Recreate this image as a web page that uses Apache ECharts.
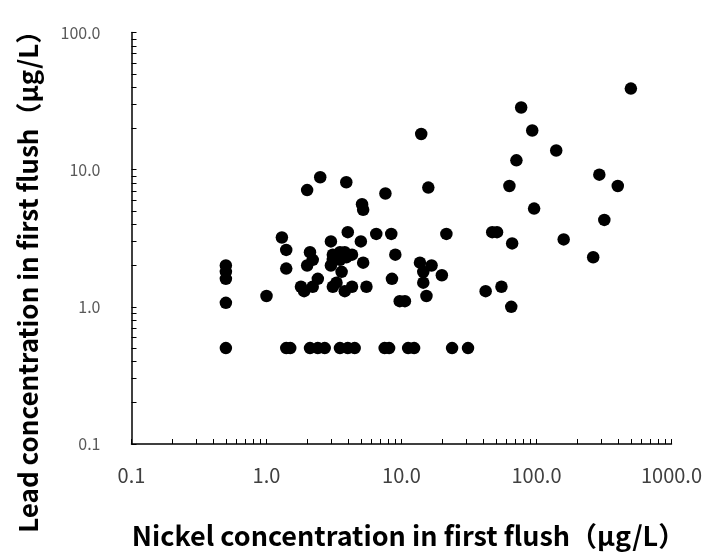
<!DOCTYPE html>
<html>
<head>
<meta charset="utf-8">
<script src="https://cdn.jsdelivr.net/npm/echarts@6/dist/echarts.min.js"></script>
<style>
    html, body { margin: 0; padding: 0; background: #fff; }
    #J-scatter { width: 706px; height: 554px; }
</style>
</head>
<body>
<div id="J-scatter"></div>
<script>
// nickel / lead in first flush, ug/L
const nickel = [
    0.5, 0.5, 0.5, 0.5, 0.5,
    1.0,
    1.3, 1.4, 1.4, 1.4, 1.5,
    1.8, 1.9, 2.2, 2.0, 2.5, 2.1, 2.2, 2.0, 2.4,
    2.1, 2.4, 2.7, 3.5, 4.0, 4.5, 7.5, 8.1, 11.2, 12.4, 23.7, 31.1,
    3.0, 3.1, 3.5, 3.8, 4.3, 3.1, 3.5, 3.9, 3.0, 3.6,
    3.1, 3.3, 3.8, 4.3, 5.5, 5.2,
    4.0, 5.0, 6.5, 8.4,
    3.9, 7.6, 15.8, 14.0,
    5.1, 5.2,
    9.0, 8.5, 9.7, 10.6,
    13.7, 16.7, 14.5, 19.9, 14.5, 15.3, 21.5,
    42, 55, 65, 47, 51, 66,
    63, 71, 77, 93, 96,
    140, 159, 263, 292, 318, 400, 500
];
const lead = [
    2.0, 1.8, 1.6, 1.07, 0.5,
    1.2,
    3.2, 2.6, 1.9, 0.5, 0.5,
    1.4, 1.3, 1.4, 7.1, 8.8, 2.5, 2.2, 2.0, 1.6,
    0.5, 0.5, 0.5, 0.5, 0.5, 0.5, 0.5, 0.5, 0.5, 0.5, 0.5, 0.5,
    3.0, 2.4, 2.5, 2.5, 2.4, 2.2, 2.2, 2.3, 2.0, 1.8,
    1.4, 1.5, 1.3, 1.4, 1.4, 2.1,
    3.5, 3.0, 3.4, 3.4,
    8.1, 6.7, 7.4, 18.2,
    5.6, 5.1,
    2.4, 1.6, 1.1, 1.1,
    2.1, 2.0, 1.8, 1.7, 1.5, 1.2, 3.4,
    1.3, 1.4, 1.0, 3.5, 3.5, 2.9,
    7.6, 11.7, 28.4, 19.3, 5.2,
    13.8, 3.1, 2.3, 9.2, 4.3, 7.6, 39
];

// tick marks at 1..9 of every decade
const xTicks = [
    0.1, 0.2, 0.3, 0.4, 0.5, 0.6, 0.7, 0.8, 0.9,
    1, 2, 3, 4, 5, 6, 7, 8, 9,
    10, 20, 30, 40, 50, 60, 70, 80, 90,
    100, 200, 300, 400, 500, 600, 700, 800, 900, 1000
];
const yTicks = [
    0.1, 0.2, 0.3, 0.4, 0.5, 0.6, 0.7, 0.8, 0.9,
    1, 2, 3, 4, 5, 6, 7, 8, 9,
    10, 20, 30, 40, 50, 60, 70, 80, 90, 100
];
const xLabels = [0.1, 1, 10, 100, 1000];
const yLabels = [0.1, 1, 10, 100];

const points = nickel.map((v, i) => [v, lead[i]]);

const FONT = '"Noto Sans CJK JP", "Noto Sans", sans-serif';

const option = {
    animation: false,
    backgroundColor: '#fff',
    grid: {
        left: 131.5,
        right: 34.5,
        top: 32.5,
        bottom: 109
    },
    xAxis: {
        type: 'log',
        logBase: 10,
        min: 0.1,
        max: 1000,
        name: 'Nickel concentration in first flush（μg/L）',
        nameLocation: 'middle',
        nameGap: 78,
        nameTextStyle: {
            fontFamily: FONT,
            fontWeight: 'bold',
            fontSize: 27,
            color: '#000',
            padding: [0, 0, 0, 14]
        },
        axisLine: { lineStyle: { color: '#000', width: 1.5 } },
        axisTick: {
            inside: true,
            length: 5,
            customValues: xTicks,
            lineStyle: { color: '#000', width: 1 }
        },
        axisLabel: {
            customValues: xLabels,
            margin: 21,
            fontFamily: FONT,
            fontSize: 20,
            color: '#404040',
            formatter: v => Number(v).toFixed(1)
        },
        splitLine: { show: false }
    },
    yAxis: {
        type: 'log',
        logBase: 10,
        min: 0.1,
        max: 100,
        name: 'Lead concentration in first flush（μg/L）',
        nameLocation: 'middle',
        nameRotate: 90,
        nameGap: 90,
        nameTextStyle: {
            fontFamily: FONT,
            fontWeight: 'bold',
            fontSize: 26,
            color: '#000',
            padding: [0, 74, 0, 0]
        },
        axisLine: { lineStyle: { color: '#000', width: 1.5 } },
        axisTick: {
            inside: true,
            length: 5,
            customValues: yTicks,
            lineStyle: { color: '#000', width: 1 }
        },
        axisLabel: {
            customValues: yLabels,
            margin: 31,
            fontFamily: FONT,
            fontSize: 16,
            color: '#595959',
            formatter: v => Number(v).toFixed(1)
        },
        splitLine: { show: false }
    },
    series: [
        {
            type: 'scatter',
            data: points,
            symbol: 'circle',
            symbolSize: 12.5,
            itemStyle: { color: '#000', opacity: 1 }
        }
    ]
};

const chart = echarts.init(document.getElementById('J-scatter'));
chart.setOption(option);
</script>
</body>
</html>
